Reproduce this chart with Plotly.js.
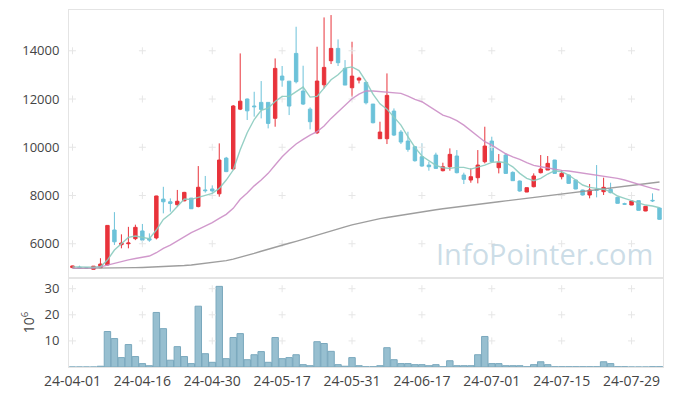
<!DOCTYPE html>
<html>
<head>
<meta charset="utf-8">
<script src="https://cdn.plot.ly/plotly-3.0.1.min.js"></script>
<style>html,body{margin:0;padding:0;background:#fff;}#chart{width:673px;height:396px;}</style>
</head>
<body>
<div id="chart"></div>
<script>
// Trading days (yy-mm-dd)
const dates = [
"24-04-01","24-04-02","24-04-03","24-04-04","24-04-05","24-04-08","24-04-09","24-04-11","24-04-12","24-04-15",
"24-04-16","24-04-17","24-04-18","24-04-19","24-04-22","24-04-23","24-04-24","24-04-25","24-04-26","24-04-29",
"24-04-30","24-05-02","24-05-03","24-05-07","24-05-08","24-05-09","24-05-10","24-05-13","24-05-14","24-05-16",
"24-05-17","24-05-20","24-05-21","24-05-22","24-05-23","24-05-24","24-05-27","24-05-28","24-05-29","24-05-30",
"24-05-31","24-06-03","24-06-04","24-06-05","24-06-07","24-06-10","24-06-11","24-06-12","24-06-13","24-06-14",
"24-06-17","24-06-18","24-06-19","24-06-20","24-06-21","24-06-24","24-06-25","24-06-26","24-06-27","24-06-28",
"24-07-01","24-07-02","24-07-03","24-07-04","24-07-05","24-07-08","24-07-09","24-07-10","24-07-11","24-07-12",
"24-07-15","24-07-16","24-07-17","24-07-18","24-07-19","24-07-22","24-07-23","24-07-24","24-07-25","24-07-26",
"24-07-29","24-07-30","24-07-31","24-08-01","24-08-02"];

const open = [5010,5030,5000,4940,5006,5120,6570,5960,6000,6210,
6530,6210,6240,7850,7740,7620,7780,7890,7540,8230,
8270,8070,9550,9100,11580,12000,11710,11860,11860,11200,
12950,12740,13890,12330,11580,10600,12590,13587,14098,13269,
12467,12783,12689,11791,10354,10354,11500,10630,10257,10022,
9608,9262,9677,9028,9193,9636,8848,8641,8738,9401,
10257,9152,9677,8959,8600,8144,8365,8945,9055,9470,
8779,8848,8641,8227,8020,8240,8158,8254,7923,7660,
7606,7785,7357,7800,7480];
const high = [5090,5090,5000,5075,5400,6770,7310,6390,6700,6790,
6820,6430,7990,8360,7880,8230,8150,7900,9220,8810,
8420,10160,9600,11750,13890,12020,12300,12744,11860,13682,
13367,12744,14995,13380,11653,14167,15383,15480,14471,13614,
14374,12921,12689,11791,11058,13061,11610,10713,10643,10050,
10161,9401,9774,9359,9953,9884,8945,9124,9884,10851,
10437,9718,9746,9000,8620,8330,8917,9677,9636,9480,
9055,8860,8650,8240,8475,9262,8738,8530,7930,7700,
7780,7790,7560,8089,7500];
const low = [5000,4970,5000,4937,5000,5100,5950,5810,5810,6150,
5990,6080,6180,7260,7330,7540,7760,7440,7510,8120,
8090,7950,8970,9050,11540,11130,11270,11196,10782,10851,
12509,11334,12647,11750,10741,10547,12440,13449,13367,12578,
12095,12647,11776,10989,10354,10133,10464,10133,9815,9401,
9193,9028,9124,9000,9028,8917,8475,8530,8503,9332,
9359,8917,8900,8600,8158,8140,8337,8917,9055,8917,
8669,8480,8260,8000,7882,7923,8020,8090,7670,7610,
7600,7380,7350,7730,7000];
const close = [5080,5000,5000,5070,5160,6760,6080,6030,6030,6680,
6150,6150,7980,7740,7670,7760,8130,7450,8340,8200,
8190,9470,8990,11710,11910,11510,11680,11570,10989,13269,
12783,11708,12716,11791,11058,12744,13311,14098,13505,12578,
12949,12866,11845,11017,10630,12150,10506,10216,9912,9442,
9221,9193,9124,9193,9705,8945,8669,8779,9262,10050,
9401,9359,8917,8614,8186,8324,8807,9097,9332,8917,
8917,8503,8268,8020,8227,8220,8337,8117,7675,7640,
7771,7385,7550,7780,7012];

// Moving-average lines
const maShort = [5040,5030,5020,5030,5048,5324,5739,6015,6263,6319,
6263,6209,6568,7010,7231,7535,7852,7838,7922,8005,
8088,8296,8641,9055,9900,10600,11150,11528,11625,11900,
12108,12108,12315,12495,12080,12108,12453,12799,13006,13282,
13330,13180,12730,12200,11800,11580,11250,10919,10436,9994,
9635,9428,9248,9152,9124,9165,9165,9096,9165,9262,
9372,9400,9359,9190,8917,8710,8614,8710,8890,9028,
8986,8848,8641,8434,8337,8296,8254,8158,7978,7880,
7784,7673,7604,7563,7494];
const maMid = [4990,4990,4995,5000,5040,5120,5200,5270,5330,5390,
5450,5489,5627,5808,5945,6125,6291,6457,6595,6733,
6872,7051,7217,7466,7845,8100,8400,8641,8917,9262,
9608,9884,10133,10326,10506,10644,10879,11196,11472,11760,
12010,12200,12336,12330,12301,12287,12230,12232,12122,11984,
11887,11707,11514,11334,11237,11099,10919,10684,10463,10229,
10091,9912,9730,9600,9497,9359,9248,9193,9138,9083,
9041,9014,8972,8931,8903,8862,8821,8779,8710,8641,
8544,8461,8379,8296,8227];
const maLong = [4980,4980,4982,4984,4987,4990,4994,4998,5003,5010,
5018,5026,5035,5045,5060,5075,5095,5120,5150,5180,
5215,5255,5300,5360,5430,5510,5600,5690,5780,5860,
5940,6020,6100,6190,6280,6360,6450,6540,6620,6700,
6780,6850,6920,6980,7040,7090,7140,7190,7240,7285,
7330,7370,7410,7450,7490,7525,7560,7600,7635,7670,
7705,7740,7775,7810,7845,7880,7915,7950,7985,8020,
8055,8090,8125,8160,8195,8230,8265,8300,8335,8370,
8405,8440,8480,8520,8560];

// Volume, in millions of shares
const volume = [0,0,0,0,0.3,13.6,10.9,3.6,8.6,4.0,
1.3,0.5,20.9,14.7,2.6,7.8,4.0,1.3,23.3,5.1,
1.8,30.9,3.2,11.3,12.8,2.8,4.7,5.9,1.8,11.3,
3.2,3.6,4.7,0.9,0.5,9.7,9.0,6.0,0.9,0.3,
3.6,0.5,0.1,0.1,0.5,7.4,2.8,1.3,1.3,0.9,
0.9,0.5,0.9,0.1,2.4,0.5,0.5,0.5,4.7,11.7,
1.3,1.3,0.5,0.5,0.5,0.1,0.9,2.0,0.9,0.1,
0.1,0.1,0.1,0.1,0.1,0.1,2.0,1.3,0.1,0.1,
0,0,0,0.1,0.1];

const xTickLabels = ["24-04-01","24-04-16","24-04-30","24-05-17","24-05-31","24-06-17","24-07-01","24-07-15","24-07-29"];
const priceTicks = [6000,8000,10000,12000,14000];
const volumeTicks = [10,20,30];

const RED = '#e8333b', BLUE = '#6cc2d9';

// grid crosses at tick intersections
function crosses(yvals, xa, ya) {
  const xs = [], ys = [];
  yvals.forEach(v => xTickLabels.forEach(d => { xs.push(d); ys.push(v); }));
  return {type:'scatter', mode:'markers', x: xs, y: ys, xaxis: xa, yaxis: ya,
    marker:{symbol:'cross-thin', size:5, line:{color:'#e6e6e6', width:1}, color:'#e6e6e6'},
    hoverinfo:'skip', showlegend:false};
}

const traces = [
  crosses(priceTicks, 'x', 'y'),
  crosses(volumeTicks, 'x2', 'y2'),
  {type:'candlestick', x: dates, open, high, low, close, xaxis:'x', yaxis:'y',
   increasing:{line:{color:RED, width:1}, fillcolor:RED},
   decreasing:{line:{color:BLUE, width:1}, fillcolor:BLUE},
   whiskerwidth:0, showlegend:false, hoverinfo:'skip'},
  {type:'scatter', mode:'lines', x: dates, y: maLong, xaxis:'x', yaxis:'y',
   line:{color:'#939393', width:1.4}, opacity:0.9, showlegend:false, hoverinfo:'skip'},
  {type:'scatter', mode:'lines', x: dates, y: maMid, xaxis:'x', yaxis:'y',
   line:{color:'#cc8ec6', width:1.4}, opacity:0.9, showlegend:false, hoverinfo:'skip'},
  {type:'scatter', mode:'lines', x: dates, y: maShort, xaxis:'x', yaxis:'y',
   line:{color:'#8bcbbf', width:1.4}, opacity:0.9, showlegend:false, hoverinfo:'skip'},
  {type:'bar', x: dates, y: volume, xaxis:'x2', yaxis:'y2',
   marker:{color:'rgba(145,188,206,0.95)', line:{color:'#7aa8bd', width:1}},
   showlegend:false, hoverinfo:'skip'}
];

const axisFont = {family:'Open Sans, sans-serif', size:13, color:'#444'};
const layout = {
  width:673, height:396,
  margin:{l:69, r:10, t:10, b:29},
  paper_bgcolor:'#fff', plot_bgcolor:'#fff',
  showlegend:false, bargap:0.08,
  font:{family:'Open Sans, sans-serif', size:13, color:'#444'},
  xaxis:{type:'category', categoryorder:'array', categoryarray:dates,
    range:[-0.5, 84.5], domain:[0,1], anchor:'y',
    showticklabels:false, showgrid:false, zeroline:false, ticks:'',
    showline:true, mirror:true, linecolor:'#e4e4e4', linewidth:1,
    rangeslider:{visible:false}, fixedrange:true},
  yaxis:{domain:[0.25,1], range:[4590,15690], anchor:'x',
    tickvals:priceTicks, ticktext:priceTicks.map(String), tickfont:axisFont,
    showgrid:false, zeroline:false, ticks:'', ticklabelstandoff:6,
    showline:true, mirror:true, linecolor:'#e4e4e4', linewidth:1},
  xaxis2:{type:'category', categoryorder:'array', categoryarray:dates,
    range:[-0.5, 84.5], domain:[0,1], anchor:'y2',
    tickvals:xTickLabels, ticktext:xTickLabels, tickangle:0,
    tickfont:{family:'Open Sans, sans-serif', size:14, color:'#444'},
    showgrid:false, zeroline:false, ticks:'', ticklabelstandoff:1,
    showline:true, mirror:true, linecolor:'#e4e4e4', linewidth:1},
  yaxis2:{domain:[0,0.25], range:[0,34.2], anchor:'x2',
    tickvals:volumeTicks, ticktext:volumeTicks.map(String), tickfont:axisFont,
    showgrid:false, zeroline:false, ticks:'', ticklabelstandoff:6,
    showline:true, mirror:true, linecolor:'#e4e4e4', linewidth:1,
    title:{text:'10<sup>6</sup>', font:{family:'Open Sans, sans-serif', size:14, color:'#444'}, standoff:6}},
  annotations:[{text:'InfoPointer.com', xref:'paper', yref:'paper', x:0.9865, y:0.318,
    xanchor:'right', yanchor:'middle', showarrow:false,
    font:{family:'Open Sans, sans-serif', size:29, color:'rgba(160,192,210,0.55)'}}]
};

Plotly.newPlot('chart', traces, layout, {staticPlot:true, displayModeBar:false});
</script>
</body>
</html>
